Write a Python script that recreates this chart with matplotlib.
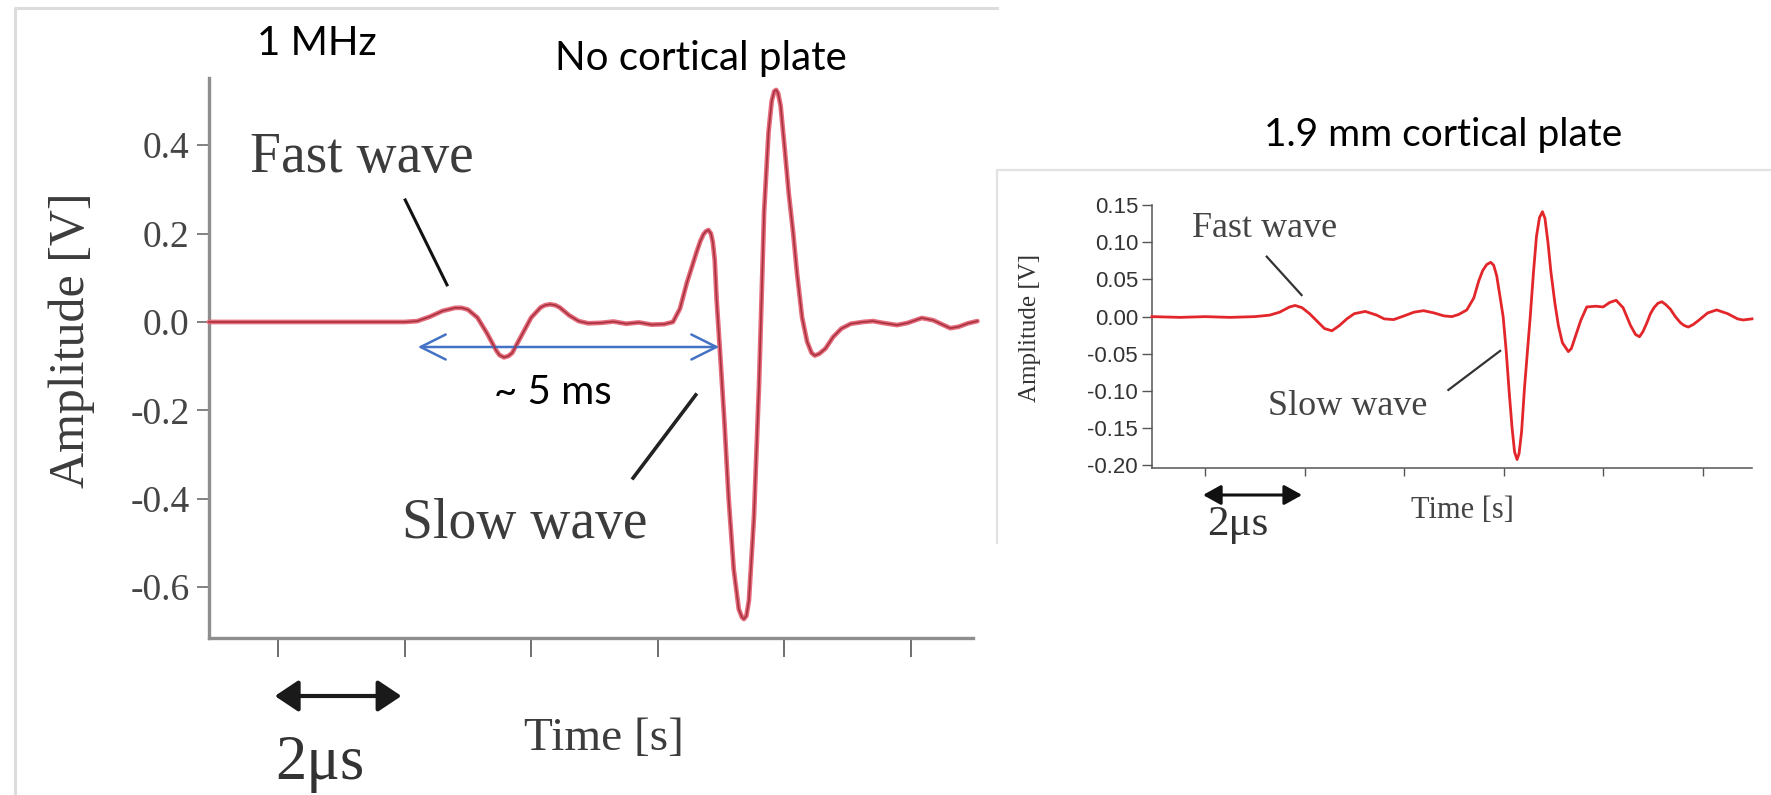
import matplotlib
matplotlib.use("Agg")
import matplotlib.pyplot as plt
from matplotlib.lines import Line2D

# ---------------- data (time in microseconds, amplitude in volts) ----------------
t_plain = [0.91, 2.0, 3.0, 4.0, 4.2, 4.4, 4.6, 4.8, 4.9, 5.0, 5.15, 5.3, 5.45, 5.5, 5.57,
           5.64, 5.7, 5.85, 6.0, 6.15, 6.22, 6.3, 6.38, 6.45, 6.6, 6.75, 6.9, 7.1, 7.3,
           7.5, 7.7, 7.9, 8.1, 8.24, 8.35, 8.46, 8.54, 8.61, 8.67, 8.72, 8.76, 8.80,
           8.84, 8.87, 8.90, 8.93, 8.98, 9.05, 9.12, 9.2, 9.28, 9.33, 9.36, 9.40, 9.44,
           9.52, 9.6, 9.68, 9.75, 9.80, 9.84, 9.87, 9.90, 9.94, 10.0, 10.07, 10.14,
           10.2, 10.28, 10.36, 10.43, 10.48, 10.55, 10.65, 10.77, 10.9, 11.05, 11.24,
           11.4, 11.55, 11.78, 11.95, 12.17, 12.35, 12.5, 12.62, 12.75, 12.9, 13.05]
v_plain = [0.0, 0.0, 0.0, 0.0, 0.002, 0.012, 0.025, 0.032, 0.032, 0.028, 0.010, -0.025,
           -0.065, -0.075, -0.080, -0.077, -0.070, -0.030, 0.010, 0.033, 0.038, 0.040,
           0.038, 0.033, 0.015, 0.002, -0.003, -0.002, 0.001, -0.004, -0.001, -0.006,
           -0.005, 0.0, 0.03, 0.089, 0.125, 0.157, 0.182, 0.198, 0.205, 0.208, 0.200,
           0.180, 0.140, 0.050, -0.060, -0.220, -0.400, -0.560, -0.650, -0.668, -0.672,
           -0.665, -0.630, -0.440, -0.140, 0.250, 0.430, 0.500, 0.522, 0.525, 0.518,
           0.490, 0.400, 0.290, 0.200, 0.110, 0.010, -0.045, -0.070, -0.076, -0.072,
           -0.060, -0.034, -0.015, -0.004, 0.000, 0.002, -0.002, -0.007, -0.002, 0.009,
           0.004, -0.006, -0.014, -0.011, -0.003, 0.002]

t_plate = [0.935, 1.5, 2.0, 2.5, 3.0, 3.3, 3.5, 3.7, 3.81, 3.95, 4.1, 4.25, 4.4, 4.55,
           4.7, 4.85, 5.0, 5.22, 5.45, 5.6, 5.79, 6.0, 6.2, 6.39, 6.6, 6.8, 6.96, 7.1,
           7.26, 7.4, 7.5, 7.58, 7.66, 7.74, 7.80, 7.86, 7.92, 7.99, 8.05, 8.11, 8.17,
           8.22, 8.27, 8.31, 8.36, 8.42, 8.48, 8.53, 8.6, 8.66, 8.72, 8.78, 8.83, 8.89,
           8.95, 9.03, 9.1, 9.18, 9.3, 9.36, 9.45, 9.55, 9.67, 9.85, 10.0, 10.13, 10.26,
           10.4, 10.55, 10.65, 10.73, 10.8, 10.88, 10.95, 11.02, 11.1, 11.18, 11.26,
           11.35, 11.45, 11.55, 11.63, 11.71, 11.8, 11.9, 12.1, 12.28, 12.5, 12.7,
           12.81, 12.99]
v_plate = [0.0, -0.001, 0.0, -0.001, 0.0, 0.002, 0.006, 0.013, 0.015, 0.012, 0.004,
           -0.006, -0.016, -0.019, -0.012, -0.003, 0.004, 0.007, 0.002, -0.003, -0.004,
           0.001, 0.006, 0.008, 0.005, 0.001, 0.0, 0.003, 0.009, 0.025, 0.048, 0.062,
           0.070, 0.073, 0.069, 0.055, 0.030, 0.0, -0.045, -0.100, -0.150, -0.182,
           -0.192, -0.184, -0.155, -0.095, -0.045, -0.004, 0.060, 0.108, 0.133, 0.141,
           0.132, 0.100, 0.060, 0.018, -0.012, -0.035, -0.047, -0.043, -0.025, -0.005,
           0.013, 0.014, 0.013, 0.019, 0.022, 0.012, -0.012, -0.024, -0.027, -0.020,
           -0.008, 0.004, 0.012, 0.018, 0.020, 0.016, 0.010, 0.0, -0.008, -0.012,
           -0.014, -0.011, -0.006, 0.005, 0.009, 0.004, -0.003, -0.0045, -0.003]

plain_yticks = [0.4, 0.2, 0.0, -0.2, -0.4, -0.6]
plain_yticklabels = ["0.4", "0.2", "0.0", "-0.2", "-0.4", "-0.6"]
plate_yticks = [0.15, 0.10, 0.05, 0.00, -0.05, -0.10, -0.15, -0.20]
plate_yticklabels = ["0.15", "0.10", "0.05", "0.00", "-0.05", "-0.10", "-0.15", "-0.20"]
time_ticks = [2, 4, 6, 8, 10, 12]

W, H = 1771, 795
fig = plt.figure(figsize=(W / 100, H / 100), dpi=100)
fig.patch.set_facecolor("white")


def fx(px):
    return px / W


def fy(py):
    return 1 - py / H


SERIF = "Liberation Serif"
SANS = "Lato"

# light frames around the two panels
fig.add_artist(Line2D([fx(15), fx(15), fx(997)], [fy(795), fy(8), fy(8)],
                      color="#dcdcdc", lw=2.2))
fig.add_artist(Line2D([fx(997), fx(997), fx(1771)], [fy(543), fy(170), fy(170)],
                      color="#e2e2e2", lw=1.6))

# ---------------- left panel: no cortical plate ----------------
ax1 = fig.add_axes([fx(209), fy(638), fx(973) - fx(209), fy(78) - fy(638)])
ax1.set_facecolor("none")
ax1.plot(t_plain, v_plain, color="#e46c7c", lw=3.4, solid_capstyle="round",
         solid_joinstyle="round", clip_on=False, zorder=3)
ax1.plot(t_plain, v_plain, color="#a8323f", lw=1.2, solid_joinstyle="round",
         clip_on=False, zorder=4)
ax1.set_xlim(0.91, 12.98)
ax1.set_ylim(-0.715, 0.552)
for s in ("top", "right"):
    ax1.spines[s].set_visible(False)
for s in ("left", "bottom"):
    ax1.spines[s].set_color("#8e8e8e")
    ax1.spines[s].set_linewidth(2.4)
ax1.set_yticks(plain_yticks)
ax1.set_yticklabels(plain_yticklabels, family=SERIF, fontsize=27, color="#454545")
ax1.set_xticks(time_ticks)
ax1.tick_params(axis="x", direction="out", length=14, width=1.2, color="#555",
                labelbottom=False)
ax1.tick_params(axis="y", direction="out", length=9, width=1.3, color="#777", pad=5)

# pointer lines and the blue span arrow
ax1.plot([4.01, 4.67], [0.276, 0.084], color="#111", lw=2.2, clip_on=False)
ax1.plot([8.60, 7.61], [-0.165, -0.353], color="#222", lw=2.6, clip_on=False)
ax1.annotate("", xy=(8.97, -0.0566), xytext=(4.21, -0.0566),
             arrowprops=dict(arrowstyle="<->,head_length=0.9,head_width=0.45",
                             color="#4472c4", lw=1.8, shrinkA=0, shrinkB=0,
                             mutation_scale=20))
# scale bar below the time axis (y in figure pixels from the bottom)
ax1.annotate("", xy=(3.95, H - 696), xytext=(1.95, H - 696),
             xycoords=("data", "figure pixels"), textcoords=("data", "figure pixels"),
             arrowprops=dict(arrowstyle="<|-|>,head_length=0.9,head_width=0.6",
                             color="#1a1a1a", lw=3.0, shrinkA=0, shrinkB=0,
                             mutation_scale=16))

fig.text(fx(317), fy(55), "1 MHz", family=SANS, fontsize=29, ha="center", va="baseline")
fig.text(fx(701), fy(70), "No cortical plate", family=SANS, fontsize=29,
         ha="center", va="baseline")
fig.text(fx(553), fy(404), "~ 5 ms", family=SANS, fontsize=29, ha="center",
         va="baseline")
fig.text(fx(362), fy(172), "Fast wave", family=SERIF, fontsize=40, color="#3c3c3c",
         ha="center", va="baseline")
fig.text(fx(525), fy(538), "Slow wave", family=SERIF, fontsize=40, color="#3c3c3c",
         ha="center", va="baseline")
fig.text(fx(604), fy(750), "Time [s]", family=SERIF, fontsize=34, color="#3c3c3c",
         ha="center", va="baseline")
fig.text(fx(320), fy(779), "2\u03bcs", family=SERIF, fontsize=45, color="#333",
         ha="center", va="baseline")
fig.text(fx(72), fy(340), "Amplitude [V]", family=SERIF, fontsize=36, color="#3c3c3c",
         rotation=90, ha="center", va="center")

# ---------------- right panel: 1.9 mm cortical plate ----------------
ax2 = fig.add_axes([fx(1152), fy(468), fx(1752) - fx(1152), fy(205) - fy(468)])
ax2.set_facecolor("none")
ax2.plot(t_plate, v_plate, color="#e2262a", lw=2.0, solid_joinstyle="round",
         clip_on=False, zorder=3)
ax2.set_xlim(0.935, 12.99)
ax2.set_ylim(-0.2034, 0.150)
for s in ("top", "right"):
    ax2.spines[s].set_visible(False)
for s in ("left", "bottom"):
    ax2.spines[s].set_color("#555")
    ax2.spines[s].set_linewidth(1.1)
ax2.set_yticks(plate_yticks)
ax2.set_yticklabels(plate_yticklabels, family="Liberation Sans", fontsize=16,
                    color="#333")
ax2.set_xticks(time_ticks)
ax2.tick_params(axis="x", direction="out", length=6, width=1.0, color="#555",
                labelbottom=False)
ax2.tick_params(axis="y", direction="out", length=7, width=1.0, color="#555", pad=3)

ax2.plot([3.24, 3.94], [0.0806, 0.029], color="#333", lw=1.6, clip_on=False)
ax2.plot([6.89, 7.93], [-0.0985, -0.046], color="#333", lw=1.6, clip_on=False)
ax2.annotate("", xy=(3.95, H - 495), xytext=(1.96, H - 495),
             xycoords=("data", "figure pixels"), textcoords=("data", "figure pixels"),
             arrowprops=dict(arrowstyle="<|-|>,head_length=0.9,head_width=0.5",
                             color="#111", lw=2.2, shrinkA=0, shrinkB=0,
                             mutation_scale=12))

fig.text(fx(1443), fy(146), "1.9 mm cortical plate", family=SANS, fontsize=28,
         ha="center", va="baseline")
fig.text(fx(1265), fy(237), "Fast wave", family=SERIF, fontsize=26, color="#444",
         ha="center", va="baseline")
fig.text(fx(1348), fy(415), "Slow wave", family=SERIF, fontsize=26, color="#444",
         ha="center", va="baseline")
fig.text(fx(1462), fy(518), "Time [s]", family=SERIF, fontsize=22, color="#444",
         ha="center", va="baseline")
fig.text(fx(1238), fy(535), "2\u03bcs", family=SERIF, fontsize=31, color="#333",
         ha="center", va="baseline")
fig.text(fx(1030), fy(328), "Amplitude [V]", family=SERIF, fontsize=18, color="#333",
         rotation=90, ha="center", va="center")

fig.savefig("out.png", dpi=100, facecolor="white")
